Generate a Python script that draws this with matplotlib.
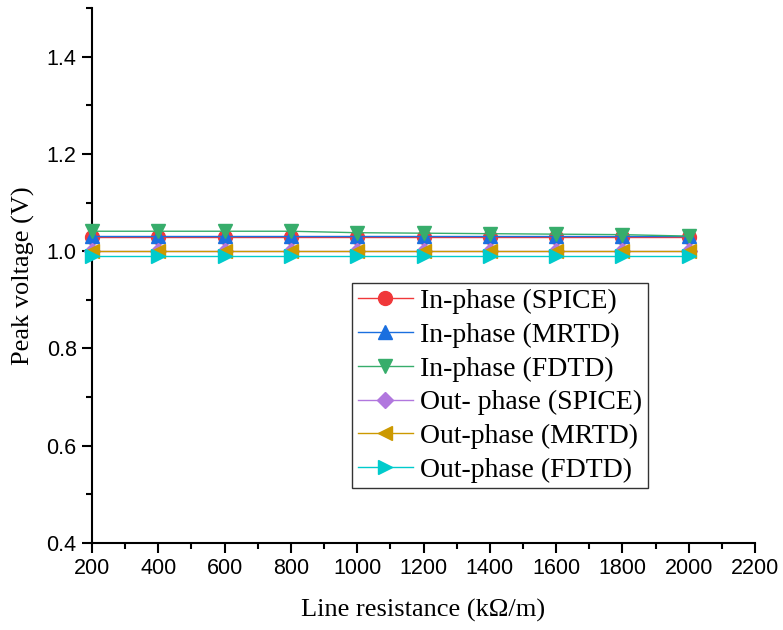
import matplotlib as mpl
import numpy as np
from matplotlib import pyplot as plt
from matplotlib.ticker import MultipleLocator

resistance = [200, 400, 600, 800, 1000, 1200, 1400, 1600, 1800, 2000]

in_spice = [1.030, 1.030, 1.030, 1.030, 1.030, 1.030, 1.030, 1.030, 1.030, 1.030]
in_mrtd = [1.031, 1.031, 1.031, 1.031, 1.031, 1.031, 1.031, 1.031, 1.031, 1.031]
in_fdtd = [1.041, 1.041, 1.041, 1.041, 1.038, 1.037, 1.036, 1.035, 1.034, 1.031]
out_spice = [1.000, 1.000, 1.000, 1.000, 1.000, 1.000, 1.000, 1.000, 1.000, 1.000]
out_mrtd = [1.000, 1.000, 1.000, 1.000, 1.000, 1.000, 1.000, 1.000, 1.000, 1.000]
out_fdtd = [0.990, 0.990, 0.990, 0.990, 0.990, 0.990, 0.990, 0.990, 0.990, 0.990]

labels = ['In-phase (SPICE)', 'In-phase (MRTD)', 'In-phase (FDTD)',
          'Out- phase (SPICE)', 'Out-phase (MRTD)', 'Out-phase (FDTD)']
series = [in_spice, in_mrtd, in_fdtd, out_spice, out_mrtd, out_fdtd]
colors = ['#F0383A', '#1A6FDF', '#37AD6B', '#B177DE', '#CC9900', '#00CBCC']
markers = ['o', '^', 'v', 'D', '<', '>']
sizes = [10, 10, 10, 8, 10, 10]

mpl.rcParams['xtick.direction'] = 'out'
mpl.rcParams['ytick.direction'] = 'out'

fig = plt.figure(figsize=(7.83, 6.3), dpi=100)
ax = fig.add_axes([92 / 783, 87 / 630, (755 - 92) / 783, (543 - 8) / 630])

for y, c, m, s, lab in zip(series, colors, markers, sizes, labels):
    ax.plot(resistance, y, color=c, marker=m, markersize=s, linewidth=1.0,
            label=lab, clip_on=False, zorder=3)

ax.set_xlim(200, 2200)
ax.set_ylim(0.4, 1.5)
ax.xaxis.set_major_locator(MultipleLocator(200))
ax.xaxis.set_minor_locator(MultipleLocator(100))
ax.yaxis.set_major_locator(MultipleLocator(0.2))
ax.yaxis.set_minor_locator(MultipleLocator(0.1))
ax.set_yticks(np.arange(0.4, 1.41, 0.2))

for side in ['top', 'right']:
    ax.spines[side].set_visible(False)
for side in ['left', 'bottom']:
    ax.spines[side].set_linewidth(1.5)

ax.tick_params(which='major', length=7, width=1.5, labelsize=15.5, pad=4)
ax.tick_params(which='minor', length=4, width=1.5)
for t in ax.get_xticklabels() + ax.get_yticklabels():
    t.set_family('Liberation Sans')

ax.set_xlabel('Line resistance (kΩ/m)', family='Liberation Serif', fontsize=19, labelpad=14)
ax.set_ylabel('Peak voltage (V)', family='Liberation Serif', fontsize=19, labelpad=8)

leg = ax.legend(loc='upper left', bbox_to_anchor=((352 - 92) / 663, (543 - 283) / 535),
                prop={'family': 'Liberation Serif', 'size': 20}, frameon=True,
                fancybox=False, edgecolor='black', handlelength=2.0,
                handletextpad=0.25, labelspacing=0.3, borderpad=0.2, borderaxespad=0)
leg.get_frame().set_linewidth(1.0)

fig.savefig('out.png', dpi=100)
